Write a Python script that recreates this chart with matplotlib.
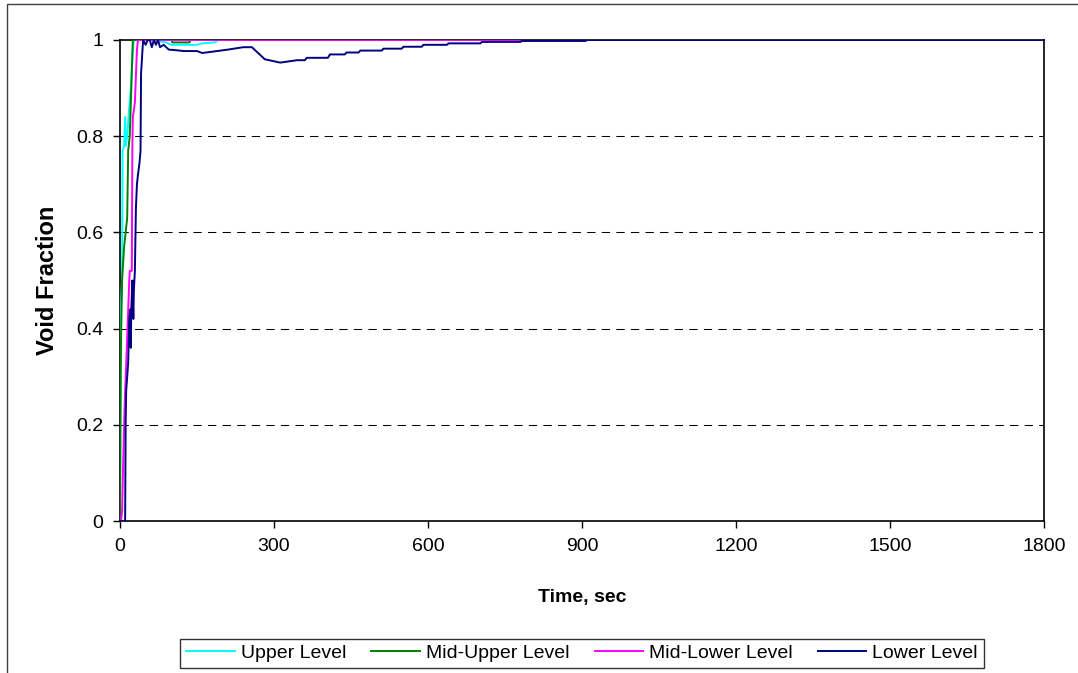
import matplotlib.pyplot as plt
from matplotlib.patches import Rectangle

# time (s) / void fraction
upper_t = [0, 1, 2, 4, 4.5, 5, 8, 10, 11, 14, 18, 21, 25, 27, 60, 90, 100, 150, 160, 185, 190, 1800]
upper_v = [0.0, 0.3, 0.45, 0.5, 0.6, 0.77, 0.78, 0.84, 0.78, 0.8, 0.86, 0.9, 0.98, 1.0, 1.0, 0.995, 0.99, 0.99, 0.993, 0.995, 1.0, 1.0]

midup_t = [0, 1, 2, 4, 8, 14, 16, 19, 25, 100, 102, 135, 138, 1800]
midup_v = [0.0, 0.23, 0.38, 0.5, 0.57, 0.63, 0.77, 0.8, 1.0, 1.0, 0.995, 0.995, 1.0, 1.0]

midlow_t = [0, 2, 4, 8, 10, 14, 18, 19, 23, 24, 25, 29, 33, 35, 1800]
midlow_v = [0.0, 0.0, 0.02, 0.2, 0.27, 0.38, 0.5, 0.52, 0.52, 0.77, 0.84, 0.87, 0.98, 1.0, 1.0]

lower_t = [0, 10, 11, 12, 14, 16, 18, 20, 21, 22, 24, 26, 27, 29, 31, 33, 35, 38, 40, 41, 45,
           50, 54, 58, 62, 66, 70, 74, 78, 85, 95, 107, 125, 150, 160, 175, 210, 240, 257,
           282, 312, 345, 360, 364, 405, 409, 438, 441, 465, 468, 510, 513, 549, 552, 588,
           591, 637, 640, 702, 705, 780, 783, 907, 910, 1800]
lower_v = [0.0, 0.0, 0.2, 0.27, 0.3, 0.33, 0.42, 0.44, 0.36, 0.44, 0.5, 0.42, 0.48, 0.52, 0.65, 0.7,
           0.72, 0.745, 0.77, 0.93, 1.0,
           0.99, 1.0, 1.0, 0.985, 1.0, 0.99, 1.0, 0.985, 0.99, 0.98, 0.979, 0.977, 0.977, 0.973,
           0.975, 0.98, 0.985, 0.985,
           0.96, 0.953, 0.958, 0.958, 0.963, 0.963, 0.97, 0.97, 0.974, 0.974, 0.978, 0.978, 0.982,
           0.982, 0.986, 0.986, 0.99, 0.99, 0.993, 0.993, 0.996, 0.996, 0.998, 0.998, 1.0, 1.0]

series = [
    ('Upper Level', upper_t, upper_v, '#00FFFF'),
    ('Mid-Upper Level', midup_t, midup_v, '#008000'),
    ('Mid-Lower Level', midlow_t, midlow_v, '#FF00FF'),
    ('Lower Level', lower_t, lower_v, '#000080'),
]

x_ticks = [0, 300, 600, 900, 1200, 1500, 1800]
y_ticks = [0, 0.2, 0.4, 0.6, 0.8, 1]
y_labels = ['0', '0.2', '0.4', '0.6', '0.8', '1']

plt.rcParams['font.family'] = ['Liberation Sans', 'DejaVu Sans']

fig = plt.figure(figsize=(10.78, 6.73), dpi=100)
ax = fig.add_axes([120 / 1078, 1 - 521 / 673, 924 / 1078, 481 / 673])

for y in [0.2, 0.4, 0.6, 0.8]:
    ax.axhline(y, color='black', lw=0.75, linestyle=(0, (8, 6)), zorder=1)

for name, t, v, c in series:
    ax.plot(t, v, color=c, lw=1.4, label=name, zorder=3)

ax.set_xlim(0, 1800)
ax.set_ylim(0, 1)
ax.set_xticks(x_ticks)
ax.set_yticks(y_ticks)
ax.set_yticklabels(y_labels)
ax.tick_params(direction='out', length=5, width=1, labelsize=14, pad=7)
for s in ax.spines.values():
    s.set_color('black')
    s.set_linewidth(1.2)

ax.set_xlabel('Time, sec', fontsize=14, fontweight='bold', labelpad=25)
ax.set_ylabel('Void Fraction', fontsize=17, fontweight='bold', labelpad=12)

leg = fig.legend(loc='lower center', bbox_to_anchor=(582 / 1078, 5 / 673), ncol=4,
                 fontsize=14, frameon=True, fancybox=False, handlelength=2.5,
                 handletextpad=0.3, columnspacing=1.3, borderpad=0.3,
                 borderaxespad=0)
leg.get_frame().set_edgecolor('black')
leg.get_frame().set_linewidth(1.0)

# outer chart border (right and bottom edges lie outside the crop)
fig.patches.append(Rectangle((7 / 1078, -0.05), 1.2, 1 - 4 / 673 + 0.05,
                             transform=fig.transFigure, fill=False,
                             edgecolor='#404040', lw=1.0))

fig.savefig('out.png', dpi=100)
